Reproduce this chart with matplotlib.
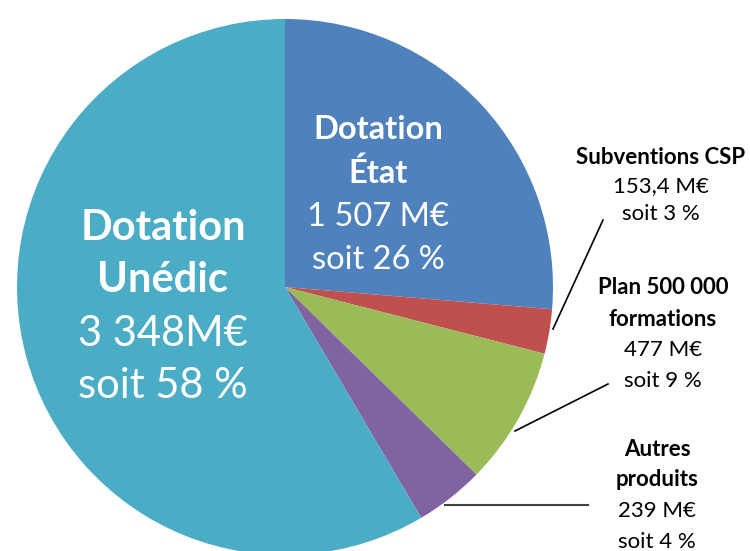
import matplotlib.pyplot as plt

plt.rcParams['font.family'] = ['Lato', 'DejaVu Sans']

# données (M€)
categories = ['Dotation État', 'Subventions CSP', 'Plan 500 000 formations',
              'Autres produits', 'Dotation Unédic']
valeurs = [1507, 153.4, 477, 239, 3348]
montants = ['1 507 M€', '153,4 M€', '477 M€', '239 M€', '3 348M€']
parts = ['soit 26 %', 'soit 3 %', 'soit 9 %', 'soit 4 %', 'soit 58 %']
couleurs = ['#4F81BD', '#C0504D', '#9BBB59', '#8064A2', '#4BACC6']

W, H = 750, 551
fig = plt.figure(figsize=(7.5, 5.51), dpi=100)
ax = fig.add_axes([0, 0, 1, 1])

# centre et rayon en pixels (y compté depuis le bas)
cx, cy, r = 285, H - 287, 268
ax.pie(valeurs, colors=couleurs, startangle=90, counterclock=False,
       center=(cx, cy), radius=r, wedgeprops=dict(linewidth=0))
ax.set_xlim(0, W)
ax.set_ylim(0, H)
ax.set_aspect('equal')
ax.axis('off')


def lignes(x, ys, textes, gras, taille, couleur):
    # une ligne de texte par position verticale (pixels depuis le haut)
    for y, t, g in zip(ys, textes, gras):
        ax.text(x, H - y, t, color=couleur, fontsize=taille,
                fontweight='bold' if g else 'normal',
                ha='center', va='center_baseline')


# étiquettes blanches dans le camembert
lignes(378, [127, 170, 214, 257], ['Dotation', 'État', montants[0], parts[0]],
       [1, 1, 0, 0], 23.5, 'white')
lignes(163, [225, 277, 330, 382], ['Dotation', 'Unédic', montants[4], parts[4]],
       [1, 1, 0, 0], 30, 'white')

# étiquettes extérieures
lignes(661, [155, 184, 212], ['Subventions CSP', montants[1], parts[1]],
       [1, 0, 0], 16, 'black')
lignes(663, [286, 317, 348, 379], ['Plan 500 000', 'formations', montants[2], parts[2]],
       [1, 1, 0, 0], 16, 'black')
lignes(657, [448, 478, 509, 540], ['Autres', 'produits', montants[3], parts[3]],
       [1, 1, 0, 0], 16, 'black')

# traits de rappel
ax.plot([553, 603], [H - 329, H - 220], color='black', lw=1.2)
ax.plot([515, 608], [H - 431, H - 384], color='black', lw=1.2)
ax.plot([445, 588], [H - 505, H - 505], color='#404040', lw=1.5)

fig.savefig('out.png', dpi=100)
